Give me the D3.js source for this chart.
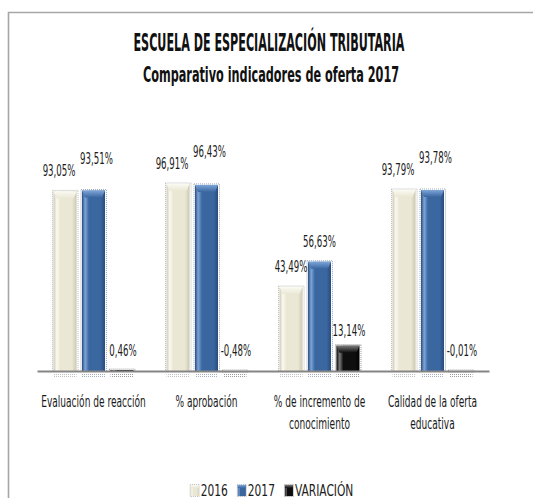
<!DOCTYPE html>
<html>
<head>
<meta charset="utf-8">
<script src="https://cdn.jsdelivr.net/npm/d3@7"></script>
<style>
  body { margin: 0; background: #fff; }
  svg { display: block; }
</style>
</head>
<body>
<svg id="chart" width="533" height="498"></svg>
<script>
// ---- data ----
const categories = [
  "Evaluación de reacción",
  "% aprobación",
  "% de incremento de conocimiento",
  "Calidad de la oferta educativa"
];
const seriesNames = ["2016", "2017", "VARIACIÓN"];
const values2016 = [93.05, 96.91, 43.49, 93.79];
const values2017 = [93.51, 96.43, 56.63, 93.78];
const valuesVariacion = [0.46, -0.48, 13.14, -0.01];
const titleLines = [
  "ESCUELA DE ESPECIALIZACIÓN TRIBUTARIA",
  "Comparativo indicadores de oferta 2017"
];

const seriesValues = [values2016, values2017, valuesVariacion];

// ---- styling ----
const FONT = '"Liberation Sans Narrow","Arial Narrow","DejaVu Sans Condensed",sans-serif';
const palette = {
  "2016":      { base: "#EAE7D4", light: "#FBFAF2", dark: "#CCC8B2", dots: "#a9a9a9" },
  "2017":      { base: "#3B67A1", light: "#7DA5D8", dark: "#284C7C", dots: "#8796ad" },
  "VARIACIÓN": { base: "#0E0E0E", light: "#7a7a7a", dark: "#000000", dots: "#7a7a7a" }
};

const W = 533, H = 498;
const cx = 271;                 // horizontal centre of the chart box
const plot = { left: 37, right: 489, baseline: 371, top: 178 };

const svg = d3.select("#chart");
const defs = svg.append("defs");

const locale = d3.formatLocale({ decimal: ",", thousands: ".", grouping: [3], currency: ["", ""], minus: "-" });
const fmt = v => locale.format(".2f")(v) + "%";

// Measure the installed narrow face against Arial Narrow digit widths so the
// horizontal condensing stays consistent whichever fallback is picked.
function fontFactor(weight) {
  const size = 20;
  const t = svg.append("text").attr("font-family", FONT).attr("font-size", size)
    .attr("font-weight", weight).text("0123456789");
  const w = t.node().getComputedTextLength();
  t.remove();
  return w / (10 * 0.456 * size);
}
const factorNormal = fontFactor("normal");
const factorBold = fontFactor("bold");

function ctext(parent, x, y, str, o) {
  const f = o.sx / (o.weight === "bold" ? factorBold : factorNormal);
  return parent.append("text")
    .attr("transform", `translate(${x},${y}) scale(${f},1)`)
    .attr("text-anchor", o.anchor || "middle")
    .attr("font-family", FONT)
    .attr("font-size", o.size)
    .attr("font-weight", o.weight || "normal")
    .attr("fill", o.fill || "#1a1a1a")
    .text(str);
}
function cwidth(str, o) {
  const t = svg.append("text").attr("font-family", FONT).attr("font-size", o.size)
    .attr("font-weight", o.weight || "normal").text(str);
  const w = t.node().getComputedTextLength();
  t.remove();
  return w * o.sx / (o.weight === "bold" ? factorBold : factorNormal);
}

// ---- gradients and dot pattern per series ----
seriesNames.forEach((s, i) => {
  const c = palette[s];
  const h = defs.append("linearGradient").attr("id", "gh" + i).attr("x1", 0).attr("x2", 1).attr("y1", 0).attr("y2", 0);
  [[0, c.dark], [0.14, c.light], [0.3, c.base], [0.8, c.base], [1, c.dark]]
    .forEach(([o, col]) => h.append("stop").attr("offset", o).attr("stop-color", col));
  const v = defs.append("linearGradient").attr("id", "gv" + i).attr("x1", 0).attr("x2", 0).attr("y1", 0).attr("y2", 1);
  [[0, c.light], [1, c.base]].forEach(([o, col]) => v.append("stop").attr("offset", o).attr("stop-color", col));
  const p = defs.append("pattern").attr("id", "pd" + i).attr("width", 2).attr("height", 2)
    .attr("patternUnits", "userSpaceOnUse");
  p.append("rect").attr("width", 1).attr("height", 1).attr("fill", c.dots);
});

// ---- chart frame ----
svg.append("path")
  .attr("d", `M8.5,${H} V12.5 H${W}`)
  .attr("fill", "none").attr("stroke", "#a6a6a6").attr("stroke-width", 1.6);

// ---- titles ----
ctext(svg, cx - 2, 51, titleLines[0], { size: 24, weight: "bold", sx: 0.71, fill: "#111" });
ctext(svg, cx, 82, titleLines[1], { size: 21.5, weight: "bold", sx: 0.80, fill: "#111" });

// ---- scales ----
const x = d3.scaleBand().domain(categories).range([plot.left, plot.right]).paddingInner(0).paddingOuter(0);
const xs = d3.scaleBand().domain(seriesNames).range([0, x.bandwidth()]).paddingInner(0.19).paddingOuter(0.58);
const y = d3.scaleLinear().domain([0, 100]).range([plot.baseline, plot.top]);
const y0 = y(0);

// ---- bars ----
const barsLayer = svg.append("g");
categories.forEach((cat, ci) => {
  seriesNames.forEach((s, si) => {
    const v = seriesValues[si][ci];
    const bx = x(cat) + xs(s);
    const bw = xs.bandwidth();
    const top = Math.min(y(v), y0);
    const bh = Math.max(Math.abs(y(v) - y0), 1);
    const g = barsLayer.append("g");
    // soft dotted shadow around the bar
    g.append("rect").attr("x", bx - 1).attr("y", top - 1).attr("width", bw + 2.5).attr("height", bh + 1)
      .attr("fill", "none").attr("stroke", palette[s].dots).attr("stroke-width", 1)
      .attr("stroke-dasharray", "1,1").attr("opacity", 0.8);
    // reflection below the axis
    g.append("rect").attr("x", bx).attr("y", y0 + 2).attr("width", bw).attr("height", 5)
      .attr("fill", `url(#pd${si})`).attr("opacity", 0.75);
    // body
    g.append("rect").attr("x", bx).attr("y", top).attr("width", bw).attr("height", bh)
      .attr("fill", `url(#gh${si})`);
    // top bevel
    if (bh > 4) {
      const b = Math.min(7, bh * 0.35);
      g.append("path")
        .attr("d", `M${bx},${top} H${bx + bw} L${bx + bw - 3},${top + b} H${bx + 3} Z`)
        .attr("fill", `url(#gv${si})`);
    }
  });
});

// ---- axis line ----
const axis = svg.append("g").attr("transform", `translate(0,${y0})`)
  .call(d3.axisBottom(x).tickSize(0).tickSizeOuter(0).tickFormat(""));
axis.select(".domain").attr("stroke", "#858585").attr("stroke-width", 2);

// ---- category labels (wrapped to band width) ----
const catStyle = { size: 16, sx: 0.79, fill: "#1a1a1a" };
categories.forEach(cat => {
  const words = cat.split(" ");
  const lines = [];
  let line = "";
  words.forEach(wd => {
    const trial = line ? line + " " + wd : wd;
    if (line && cwidth(trial, catStyle) > x.bandwidth() - 2) { lines.push(line); line = wd; }
    else line = trial;
  });
  lines.push(line);
  lines.forEach((ln, li) => ctext(svg, x(cat) + x.bandwidth() / 2, 407 + li * 22, ln, catStyle));
});

// ---- value labels ----
const lblStyle = { size: 16, sx: 0.75, fill: "#1a1a1a" };
categories.forEach((cat, ci) => {
  const cxOf = si => x(cat) + xs(seriesNames[si]) + xs.bandwidth() / 2;
  const v16 = values2016[ci], v17 = values2017[ci], vv = valuesVariacion[ci];
  let b16 = y(v16) - 15, b17 = y(v17) - 15;
  let d16 = 0, d17 = 0;
  // when both labels land on the same row, lift the 2017 one and spread them apart
  if (Math.abs(b16 - b17) < 14) {
    b17 = Math.min(b16, b17) - 12;
    d16 = -6; d17 = 3;
  }
  ctext(svg, cxOf(0) + d16, b16, fmt(v16), lblStyle);
  ctext(svg, cxOf(1) + d17, b17, fmt(v17), lblStyle);
  const bv = Math.min(y(Math.max(vv, 0)) - 10, y0 - 15);
  ctext(svg, cxOf(2) + 1, bv, fmt(vv), lblStyle);
});

// ---- legend ----
const legStyle = { size: 16, sx: 0.93, fill: "#1a1a1a" };
const items = seriesNames.map(s => ({ s, w: 10 + cwidth(s, legStyle) }));
const gap = 10;
const total = d3.sum(items, d => d.w) + gap * (items.length - 1);
let lx = cx + 1 - total / 2;
items.forEach((it, si) => {
  const g = svg.append("g");
  g.append("rect").attr("x", lx - 0.5).attr("y", 484.5).attr("width", 9).attr("height", 12)
    .attr("fill", "none").attr("stroke", palette[it.s].dots).attr("stroke-dasharray", "1,1").attr("opacity", 0.8);
  g.append("rect").attr("x", lx).attr("y", 485).attr("width", 8).attr("height", 11)
    .attr("fill", `url(#gh${si})`);
  g.append("rect").attr("x", lx).attr("y", 485).attr("width", 8).attr("height", 3)
    .attr("fill", `url(#gv${si})`);
  ctext(g, lx + 10, 496, it.s, Object.assign({ anchor: "start" }, legStyle));
  lx += it.w + gap;
});
</script>
</body>
</html>
